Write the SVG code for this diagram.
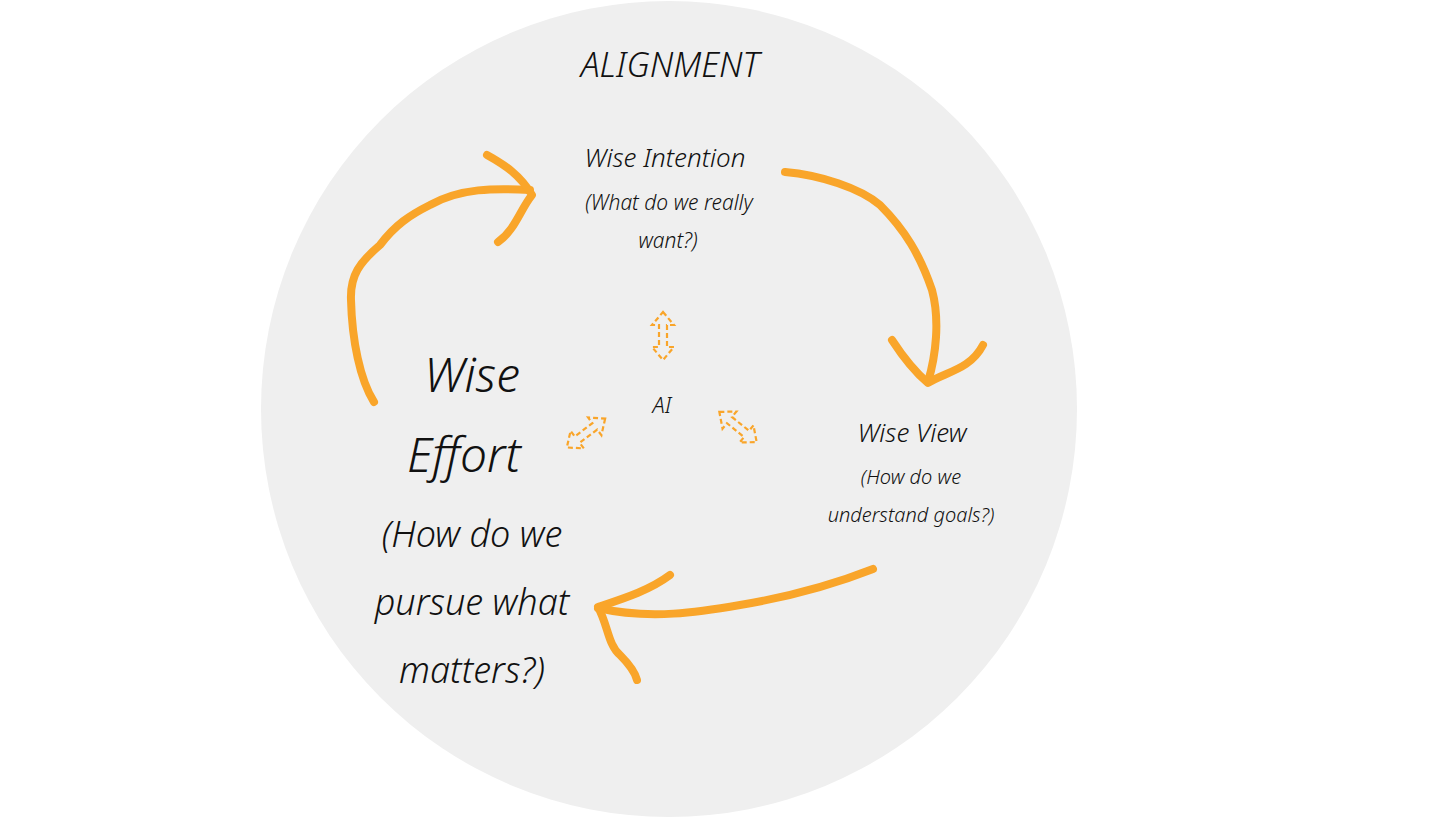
<svg xmlns="http://www.w3.org/2000/svg" width="1456" height="819" viewBox="0 0 1456 819">
<style>
.t{font-family:"Noto Sans","DejaVu Sans",sans-serif;font-weight:300;fill:#111;text-anchor:middle;font-style:italic}
.a{fill:none;stroke:#f9a52a;stroke-width:8;stroke-linecap:round;stroke-linejoin:round}
.d{fill:none;stroke:#f9a52a;stroke-width:2.2;stroke-dasharray:5 3}
</style>
<defs>
<polygon id="dbl" points="0,-24 11,-11 4,-11 4,11 11,11 0,24 -11,11 -4,11 -4,-11 -11,-11"/>
</defs>
<rect width="1456" height="819" fill="#ffffff"/>
<circle cx="669" cy="409" r="408" fill="#efefef"/>
<g id="title"><text class="t" x="670" y="77" font-size="34">ALIGNMENT</text></g>
<g id="intention">
<text class="t" x="665" y="167" font-size="26">Wise Intention</text>
<text class="t" x="669" y="210" font-size="21">(What do we really</text>
<text class="t" x="668" y="248" font-size="21">want?)</text>
</g>
<g id="ai"><text class="t" x="662" y="413" font-size="22">AI</text></g>
<g id="effort">
<text class="t" x="472" y="392" font-size="48">Wise</text>
<text class="t" x="464" y="472" font-size="48">Effort</text>
<text class="t" x="472" y="547" font-size="36">(How do we</text>
<text class="t" x="472" y="615" font-size="36">pursue what</text>
<text class="t" x="472" y="683" font-size="36">matters?)</text>
</g>
<g id="view">
<text class="t" x="912" y="442" font-size="26">Wise View</text>
<text class="t" x="911" y="484" font-size="20">(How do we</text>
<text class="t" x="911" y="522" font-size="20">understand goals?)</text>
</g>
<g id="connectors">
<path class="a" d="M374,402 C360,380 352,340 351,300 C350,275 360,262 380,245 C395,225 410,215 430,205 C460,188 495,188 530,190"/>
<path class="a" d="M487,155 C505,165 520,175 532,195 C520,210 515,230 498,242"/>
<path class="a" d="M785,172 C820,175 860,188 880,205 C905,230 920,255 932,290 C940,320 936,355 928,382"/>
<path class="a" d="M892,340 C905,360 915,372 928,383 C945,372 970,370 983,345"/>
<path class="a" d="M873,569 C840,582 800,595 740,605 C700,612 650,620 598,608"/>
<path class="a" d="M670,575 C650,590 625,598 598,607 C608,625 608,645 620,655 C630,665 635,672 637,680"/>
<use href="#dbl" class="d" transform="translate(663,336)"/>
<use href="#dbl" class="d" transform="translate(586,433) rotate(53)"/>
<use href="#dbl" class="d" transform="translate(738,427) rotate(-51)"/>
</g>
</svg>
